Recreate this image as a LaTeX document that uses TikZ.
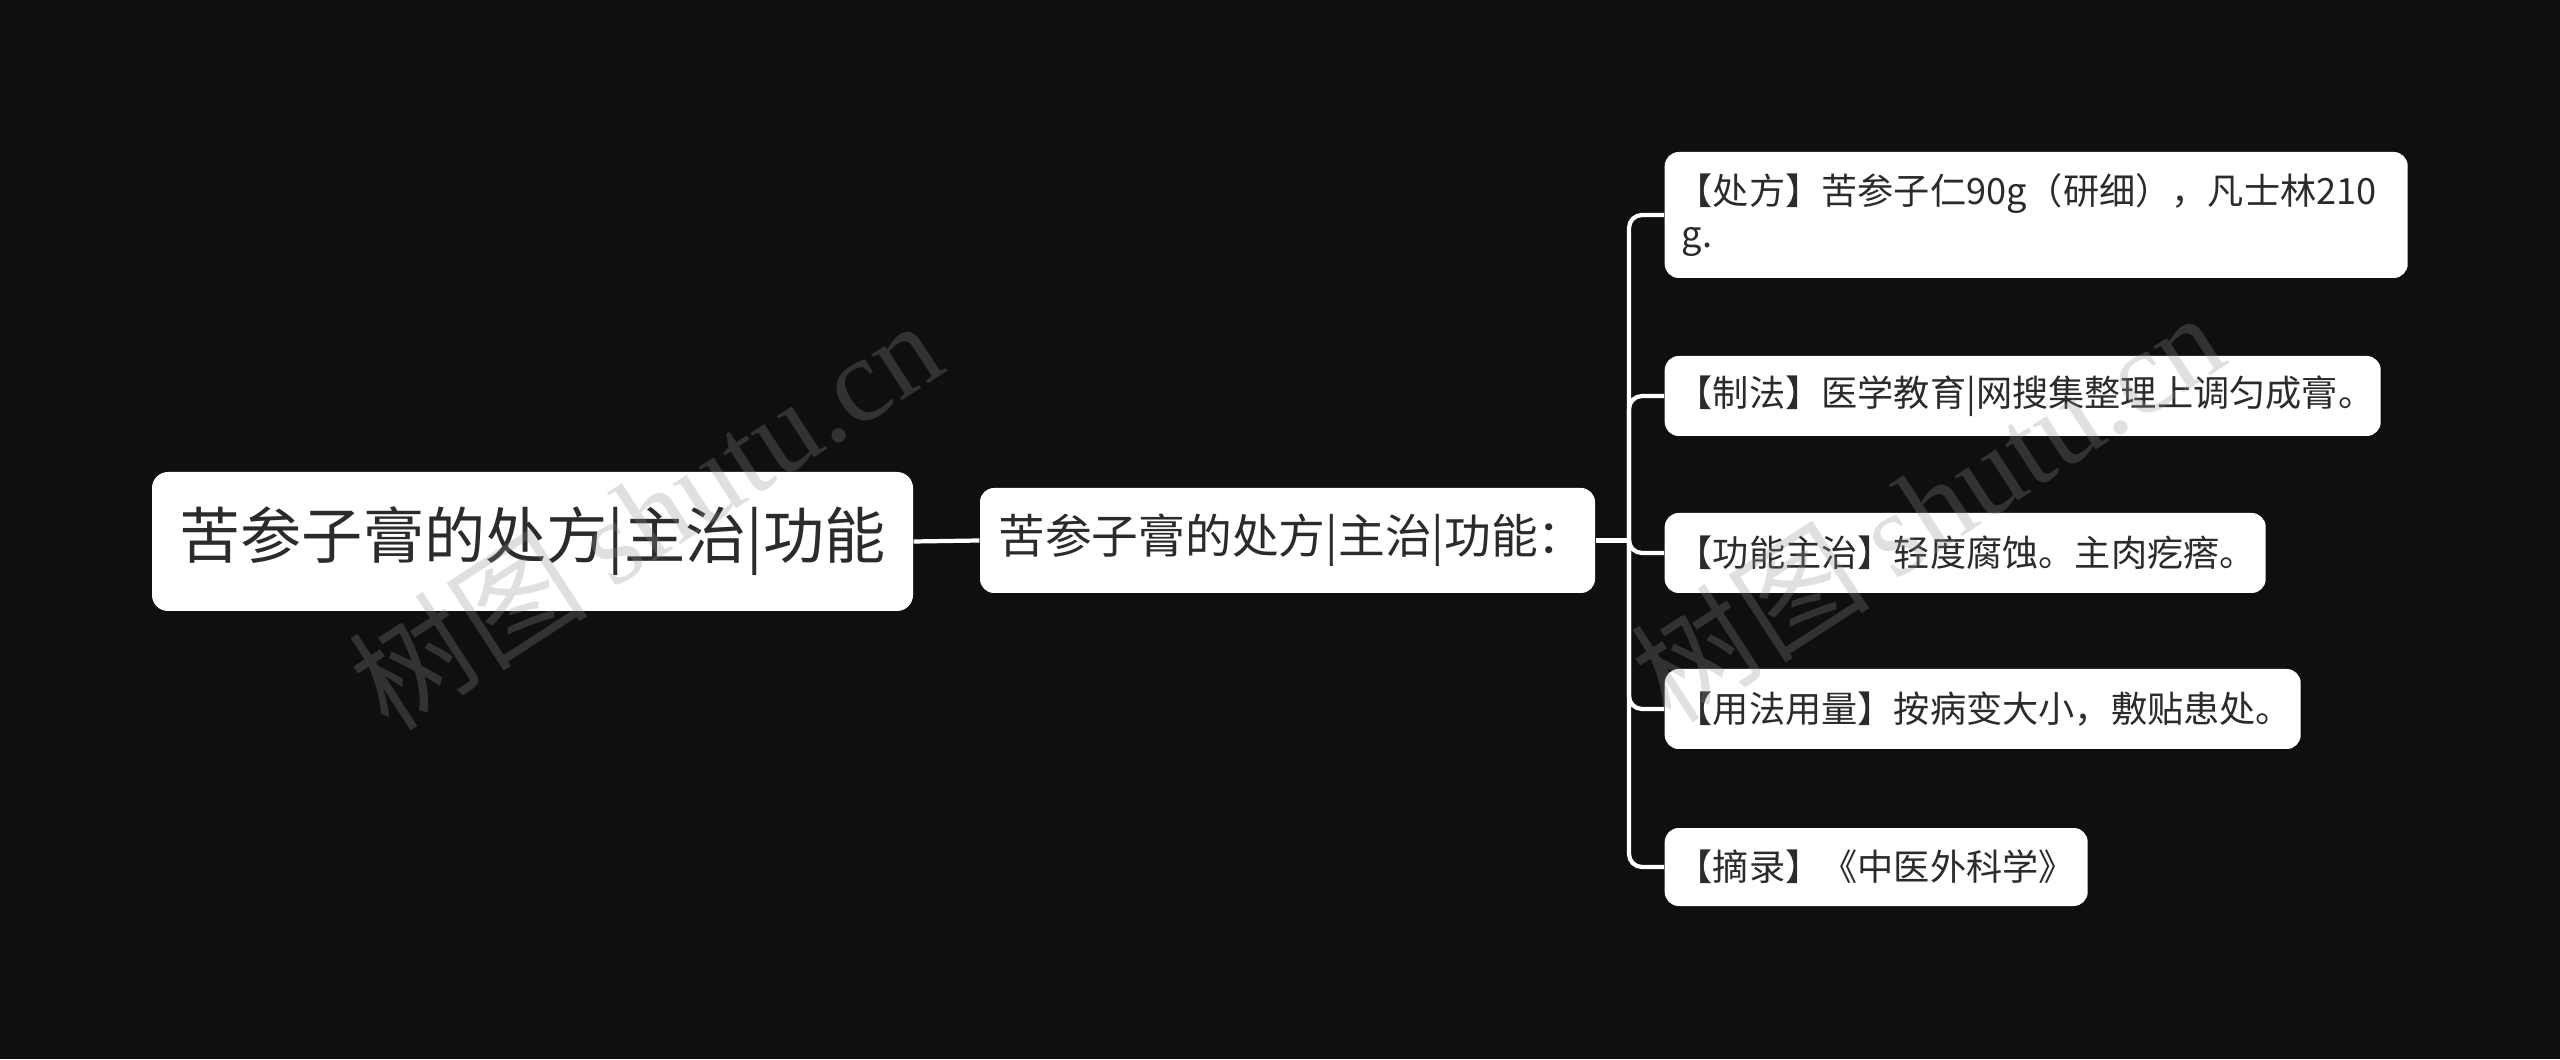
\documentclass[tikz,border=0pt]{standalone}
\usepackage{fontspec}
\setmainfont{Noto Sans CJK SC}
\newfontfamily\wmlatin{Liberation Serif}
\usetikzlibrary{positioning}
\definecolor{bgc}{HTML}{0F0F0F}
\definecolor{txt}{HTML}{2B2B2B}
\definecolor{wm}{HTML}{909090}
\tikzset{
  box/.style={fill=white, rounded corners=0.14cm, text=txt, inner sep=0pt},
  rootbox/.style={box, rounded corners=0.16cm, font=\fontsize{17.4pt}{21pt}\selectfont},
  midbox/.style={box, font=\fontsize{13.3pt}{16pt}\selectfont},
  leafbox/.style={box, anchor=west, align=left, inner xsep=0.12cm, font=\fontsize{10.3pt}{12pt}\selectfont},
  link/.style={draw=white, line width=1.2pt},
  branch/.style={link, rounded corners=0.13cm},
}
\begin{document}
\begin{tikzpicture}
\useasboundingbox[fill=bgc] (0,0) rectangle (25.6,10.59);
% root and middle
\node[rootbox, minimum width=7.61cm, minimum height=1.39cm] (root) at (5.325,5.175) {苦参子膏的处方|主治|功能};
\node[midbox, minimum width=6.15cm, minimum height=1.05cm] (mid) at (12.875,5.185) {\hspace{0.08cm}苦参子膏的处方|主治|功能：};
% leaves
\node[leafbox, minimum width=7.43cm, minimum height=1.26cm, text width=7.19cm] (l1) at (16.64,8.44) {【处方】苦参子仁90g（研细），凡士林210\\\hspace{0.05cm}g.};
\node[leafbox, minimum width=7.16cm, minimum height=0.80cm, text width=6.92cm] (l2) at (16.64,6.63) {【制法】医学教育|网搜集整理上调匀成膏。};
\node[leafbox, minimum width=6.01cm, minimum height=0.80cm, text width=5.77cm] (l3) at (16.64,5.06) {【功能主治】轻度腐蚀。主肉疙瘩。};
\node[leafbox, minimum width=6.36cm, minimum height=0.80cm, text width=6.12cm] (l4) at (16.64,3.50) {【用法用量】按病变大小，敷贴患处。};
\node[leafbox, minimum width=4.23cm, minimum height=0.78cm, text width=3.99cm] (l5) at (16.64,1.92) {【摘录】《中医外科学》};
% connectors
\coordinate (bus) at (16.29,5.185);
\draw[link] (root.east) -- (mid.west);
\draw[link] (mid.east) -- (bus);
\foreach \l in {l1,l2,l3,l4,l5}{
  \draw[branch] (bus) |- (\l.west);
}
% watermarks
\node[text=wm, opacity=0.28, rotate=33, font=\fontsize{34pt}{34pt}\selectfont] (wm1) at (6.45,5.45) {树图 {\wmlatin shutu.cn}};
\node[text=wm, opacity=0.28, rotate=33, font=\fontsize{34pt}{34pt}\selectfont] (wm2) at (19.27,5.53) {树图 {\wmlatin shutu.cn}};
\end{tikzpicture}
\end{document}
